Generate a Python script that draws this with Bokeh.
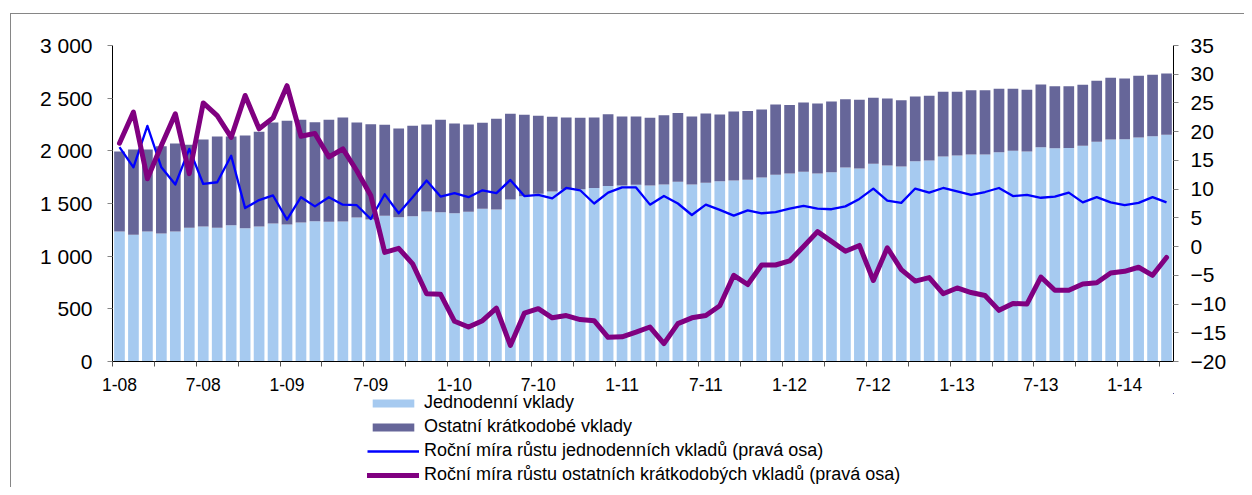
from bokeh.plotting import figure
from bokeh.layouts import column
from bokeh.models import (Range1d, LinearAxis, FixedTicker, Legend, LegendItem,
                          ColumnDataSource)
from bokeh.embed import file_html
from bokeh.resources import INLINE

# month index 0 = 1-08 ... 75 = 4-14
months = list(range(76))
tick_pos = [0, 6, 12, 18, 24, 30, 36, 42, 48, 54, 60, 66, 72]
tick_labels = ["1-08", "7-08", "1-09", "7-09", "1-10", "7-10", "1-11",
               "7-11", "1-12", "7-12", "1-13", "7-13", "1-14"]

# Jednodenní vklady (levá osa)
jednodenni = [1234, 1203, 1234, 1215, 1234, 1269, 1282, 1269, 1294, 1266, 1282, 1310,
              1300, 1320, 1332, 1326, 1329, 1367, 1348, 1383, 1370, 1380,
              1424, 1418, 1408, 1421, 1450, 1443, 1538, 1570, 1592, 1614,
              1633, 1636, 1646, 1665, 1671, 1677, 1671, 1680, 1706, 1680,
              1696, 1712, 1718, 1725, 1747, 1772, 1785, 1801, 1785, 1797,
              1842, 1832, 1877, 1861, 1851, 1902, 1908, 1946, 1956, 1965,
              1965, 1987, 2000, 1994, 2035, 2025, 2028, 2048, 2086, 2108,
              2111, 2127, 2139, 2152]

# Ostatní krátkodobé vklady (levá osa)
ostatni = [760, 810, 779, 829, 836, 788, 826, 867, 842, 880, 899, 959,
           985, 975, 940, 969, 987, 902, 905, 864, 842, 857,
           826, 877, 852, 829, 816, 861, 814, 772, 741, 709,
           684, 678, 671, 683, 655, 649, 643, 659, 652, 646,
           658, 633, 655, 652, 646, 668, 649, 658, 665, 671,
           648, 652, 626, 636, 630, 614, 614, 614, 604, 611,
           611, 602, 589, 585, 595, 589, 586, 579, 579, 585,
           576, 585, 583, 582]

# Roční míra růstu jednodenních vkladů (pravá osa)
rust_jedn = [17.3, 13.8, 21.0, 13.8, 10.8, 17.0, 10.9, 11.2, 15.8, 6.7, 8.1, 8.9,
             4.7, 8.6, 7.0, 8.6, 7.3, 7.2, 4.8, 9.1, 5.8, 8.6,
             11.5, 8.7, 9.3, 8.6, 9.8, 9.3, 11.6, 8.8, 9.0, 8.4,
             10.2, 9.8, 7.5, 9.4, 10.3, 10.3, 7.3, 8.8, 7.5, 5.5,
             7.3, 6.4, 5.4, 6.3, 5.8, 6.0, 6.6, 7.1, 6.6, 6.5,
             7.0, 8.3, 10.1, 8.0, 7.6, 10.1, 9.4, 10.2, 9.6, 9.0,
             9.5, 10.2, 8.8, 9.0, 8.5, 8.7, 9.4, 7.7, 8.6, 7.7,
             7.2, 7.6, 8.6, 7.7]

# Roční míra růstu ostatních krátkodobých vkladů (pravá osa)
rust_ost = [18.0, 23.4, 11.8, 17.6, 23.1, 12.7, 25.0, 22.8, 19.0, 26.3, 20.5, 22.4,
            28.0, 19.2, 19.7, 15.6, 17.0, 13.2, 8.9, -1.0, -0.3, -3.0,
            -8.2, -8.3, -13.0, -14.0, -12.9, -10.7, -17.2, -11.6, -10.8, -12.4,
            -12.0, -12.7, -12.9, -15.8, -15.7, -14.9, -14.0, -16.9, -13.4, -12.4,
            -12.0, -10.3, -5.0, -6.6, -3.2, -3.2, -2.5, 0.0, 2.6, 0.9,
            -0.8, 0.2, -5.9, -0.2, -4.0, -6.0, -5.4, -8.2, -7.2, -8.0,
            -8.5, -11.1, -9.9, -10.0, -5.3, -7.6, -7.6, -6.5, -6.3, -4.6,
            -4.3, -3.6, -5.0, -1.9]

left_ticks = [0, 500, 1000, 1500, 2000, 2500, 3000]
left_labels = ["0", "500", "1 000", "1 500", "2 000", "2 500", "3 000"]
right_ticks = [-20, -15, -10, -5, 0, 5, 10, 15, 20, 25, 30, 35]
legend_labels = ["Jednodenní vklady",
                 "Ostatní krátkodobé vklady",
                 "Roční míra růstu jednodenních vkladů (pravá osa)",
                 "Roční míra růstu ostatních krátkodobých vkladů (pravá osa)"]

FONT = "Liberation Sans"
LIGHT = "#A6CAF0"
DARK = "#666699"
BLUE = "#0000FF"
PURPLE = "#800080"
BAR_W = 0.766

src = ColumnDataSource(dict(x=months, j=jednodenni, o=ostatni,
                            rj=rust_jedn, ro=rust_ost))

p = figure(frame_width=1061, frame_height=316,
           min_border_left=101, min_border_right=71,
           min_border_top=31, min_border_bottom=31,
           x_range=Range1d(-0.5, 75.5), y_range=Range1d(0, 3000),
           output_backend="svg", toolbar_location=None)
p.extra_y_ranges = {"r": Range1d(-20, 35)}

p.xgrid.grid_line_color = None
p.ygrid.grid_line_color = None
p.outline_line_color = None
p.background_fill_color = "white"
p.border_fill_color = "white"

p.vbar_stack(["j", "o"], x="x", width=BAR_W, color=[LIGHT, DARK],
             line_color=None, source=src)
p.line("x", "rj", source=src, y_range_name="r", line_color=BLUE,
       line_width=2.3, line_join="round")
p.line("x", "ro", source=src, y_range_name="r", line_color=PURPLE,
       line_width=5, line_join="round", line_cap="round")

# bottom axis
xa = p.xaxis[0]
xa.ticker = FixedTicker(ticks=tick_pos,
                        minor_ticks=[m - 0.5 for m in months[::3]])
xa.major_label_overrides = {t: l for t, l in zip(tick_pos, tick_labels)}
xa.major_tick_line_color = None
xa.major_tick_out = 0
xa.major_tick_in = 0
xa.minor_tick_line_color = "#555555"
xa.minor_tick_out = 5
xa.minor_tick_in = 0
xa.axis_line_color = "black"
xa.major_label_standoff = 11
xa.major_label_text_font = FONT
xa.major_label_text_font_size = "17.5px"
xa.major_label_text_color = "black"

# left axis
ya = p.yaxis[0]
ya.ticker = FixedTicker(ticks=left_ticks)
ya.major_label_overrides = {t: l for t, l in zip(left_ticks, left_labels)}
ya.axis_line_color = "black"
ya.major_tick_line_color = "#868686"
ya.major_tick_out = 5
ya.major_tick_in = 0
ya.minor_tick_line_color = None
ya.major_label_standoff = 15
ya.major_label_text_font = FONT
ya.major_label_text_font_size = "21px"
ya.major_label_text_color = "black"

# right axis
ra = LinearAxis(y_range_name="r", ticker=FixedTicker(ticks=right_ticks))
ra.axis_line_color = "black"
ra.major_tick_line_color = "#868686"
ra.major_tick_out = 5
ra.major_tick_in = 0
ra.minor_tick_line_color = None
ra.major_label_standoff = 12
ra.major_label_text_font = FONT
ra.major_label_text_font_size = "21px"
ra.major_label_text_color = "black"
p.add_layout(ra, "right")

# legend panel below the chart; its glyphs use the same data, kept out of view
lg = figure(width=1233, height=94, x_range=Range1d(-1000, -999),
            y_range=Range1d(-1000, -999),
            min_border=0, x_axis_location=None, y_axis_location=None,
            output_backend="svg", toolbar_location=None)
lg.xgrid.grid_line_color = None
lg.ygrid.grid_line_color = None
lg.outline_line_color = None
lg.background_fill_color = "white"
lg.border_fill_color = "white"
g1 = lg.vbar(x="x", top="j", width=BAR_W, color=LIGHT, line_color=None, source=src)
g2 = lg.vbar(x="x", top="o", width=BAR_W, color=DARK, line_color=None, source=src)
g3 = lg.line(x="x", y="rj", line_color=BLUE, line_width=2.3, source=src)
g4 = lg.line(x="x", y="ro", line_color=PURPLE, line_width=5, line_cap="round",
             source=src)

legend = Legend(items=[LegendItem(label=t, renderers=[r]) for t, r in
                       zip(legend_labels, [g1, g2, g3, g4])],
                location=(255, 2), orientation="vertical",
                glyph_width=52, glyph_height=10, label_height=21, spacing=3,
                padding=0, margin=0, label_standoff=5,
                border_line_color=None, background_fill_alpha=0,
                label_text_font=FONT, label_text_font_size="18px",
                label_text_color="black")
lg.add_layout(legend)

layout = column(p, lg, spacing=0)
layout.styles = {"margin-left": "10px", "margin-top": "13px",
                 "border-left": "1px solid #868686",
                 "border-top": "1px solid #868686"}

open("out.html", "w").write(file_html(layout, INLINE))
